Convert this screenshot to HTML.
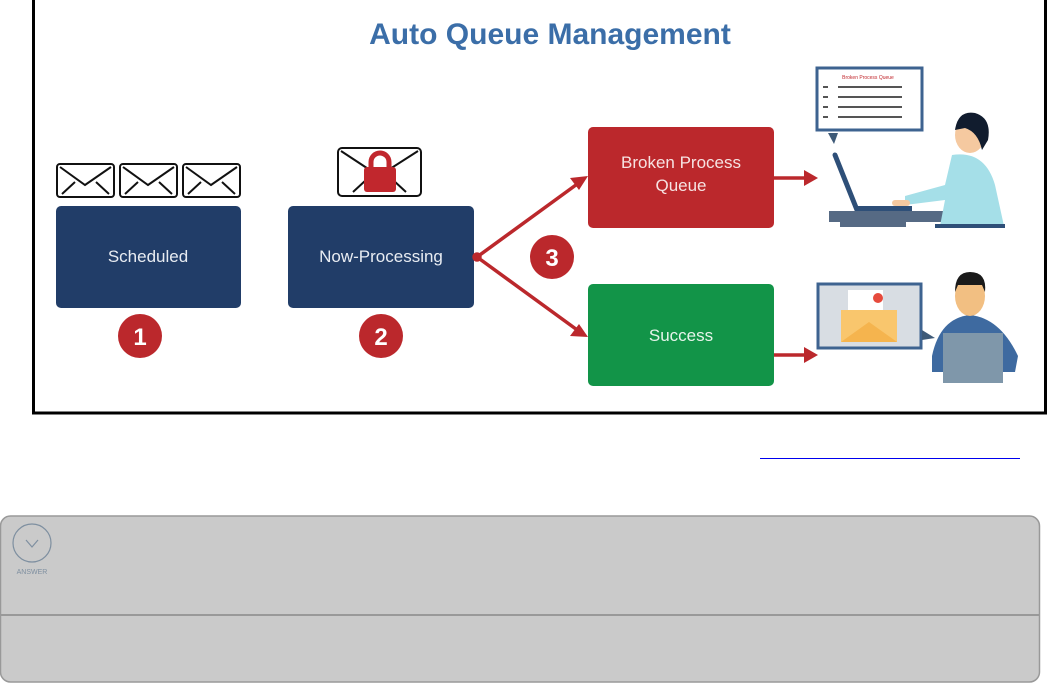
<!DOCTYPE html>
<html><head><meta charset="utf-8"><style>
html,body{margin:0;padding:0;background:#fff;width:1049px;height:683px;overflow:hidden;font-family:"Liberation Sans",sans-serif}
</style></head><body>
<svg width="1049" height="683" viewBox="0 0 1049 683" xmlns="http://www.w3.org/2000/svg" style="position:absolute;left:0;top:0">
<rect x="33.5" y="-2" width="1012" height="415" fill="#fff" stroke="#000" stroke-width="3"/>
<text x="550" y="44" text-anchor="middle" font-size="30" font-weight="bold" fill="#3b6ea8" font-family="Liberation Sans, sans-serif">Auto Queue Management</text>
<g fill="#fff" stroke="#111" stroke-width="2">
<rect x="57" y="164" width="57" height="33" rx="3"/><path d="M60 167 L85 185 L111 167 M62 194 L75 182 M109 194 L96 182" fill="none"/>
<rect x="120" y="164" width="57" height="33" rx="3"/><path d="M123 167 L148 185 L174 167 M125 194 L138 182 M172 194 L159 182" fill="none"/>
<rect x="183" y="164" width="57" height="33" rx="3"/><path d="M186 167 L211 185 L237 167 M188 194 L201 182 M235 194 L222 182" fill="none"/>
<rect x="338" y="148" width="83" height="48" rx="4"/><path d="M341 151 L379 176 L418 151 M353 192 L366 180 M406 192 L393 180" fill="none"/>
</g>
<path d="M371 168 v-6 a9 9 0 0 1 18 0 v6" fill="none" stroke="#c1272d" stroke-width="5"/>
<rect x="364" y="167" width="32" height="25" rx="3" fill="#c1272d"/>
<rect x="56" y="206" width="185" height="102" rx="5" fill="#213d68"/>
<text x="148" y="262" text-anchor="middle" font-size="17" fill="#e8ecf2">Scheduled</text>
<rect x="288" y="206" width="186" height="102" rx="5" fill="#213d68"/>
<text x="381" y="262" text-anchor="middle" font-size="17" fill="#e8ecf2">Now-Processing</text>
<rect x="588" y="127" width="186" height="101" rx="5" fill="#bb282c"/>
<text x="681" y="168" text-anchor="middle" font-size="17" fill="#f6e2e2">Broken Process</text>
<text x="681" y="191" text-anchor="middle" font-size="17" fill="#f6e2e2">Queue</text>
<rect x="588" y="284" width="186" height="102" rx="5" fill="#129448"/>
<text x="681" y="341" text-anchor="middle" font-size="17" fill="#e6f4ea">Success</text>
<g fill="#bb282c"><circle cx="140" cy="336" r="22"/><circle cx="381" cy="336" r="22"/><circle cx="552" cy="257" r="22"/></g>
<g fill="#fff" font-size="24" font-weight="bold" text-anchor="middle"><text x="140" y="345">1</text><text x="381" y="345">2</text><text x="552" y="266">3</text></g>
<g stroke="#bb282c" stroke-width="3.5" fill="none">
<circle cx="477" cy="257" r="3" fill="#bb282c"/>
<path d="M477 257 L580 182 M477 257 L580 332 M774 178 L808 178 M774 355 L808 355"/>
</g>
<g fill="#bb282c">
<path d="M588 176 L570 178 L579 190 Z"/>
<path d="M588 337 L579 324 L570 336 Z"/>
<path d="M818 178 L804 170 L804 186 Z"/>
<path d="M818 355 L804 347 L804 363 Z"/>
</g>
<rect x="817" y="68" width="105" height="62" fill="#fff" stroke="#3e6390" stroke-width="3"/>
<text x="868" y="79" text-anchor="middle" font-size="5" fill="#c1272d">Broken Process Queue</text>
<g fill="#555"><rect x="823" y="86" width="5" height="2"/><rect x="838" y="86" width="64" height="2"/><rect x="823" y="96" width="5" height="2"/><rect x="838" y="96" width="64" height="2"/><rect x="823" y="106" width="5" height="2"/><rect x="838" y="106" width="64" height="2"/><rect x="823" y="116" width="5" height="2"/><rect x="838" y="116" width="64" height="2"/></g>
<path d="M828 133 L838 133 L834 144 Z" fill="#3e5a78"/>
<path d="M835 155 L857 210" stroke="#2e4f78" stroke-width="5" stroke-linecap="round"/>
<rect x="829" y="211" width="114" height="11" fill="#566a84"/>
<rect x="840" y="222" width="66" height="5" fill="#566a84"/>
<rect x="857" y="206" width="55" height="5" fill="#2e4f78"/>
<path d="M952 155 Q985 150 995 185 L1004 226 L940 226 L945 200 L905 205 L905 196 L945 185 Z" fill="#a5dfe8"/>
<ellipse cx="970" cy="135" rx="15" ry="18" fill="#f5c9a0"/>
<path d="M955 130 Q958 110 975 113 Q992 118 988 140 L982 150 Q978 132 965 128 Z" fill="#111c2e"/>
<rect x="892" y="200" width="18" height="6" rx="3" fill="#f5c9a0"/>
<rect x="935" y="224" width="70" height="4" fill="#2e4f78"/>
<rect x="818" y="284" width="103" height="64" fill="#d8dde3" stroke="#3e6390" stroke-width="3"/>
<path d="M922 340 L935 338 L922 330 Z" fill="#3e5a78"/>
<rect x="848" y="290" width="35" height="35" fill="#fff"/>
<circle cx="878" cy="298" r="5" fill="#e64a3c"/>
<path d="M841 310 L897 310 L897 342 L841 342 Z" fill="#f9c66d"/>
<path d="M841 342 L869 322 L897 342 Z" fill="#f5b44e"/>
<path d="M932 356 Q940 318 970 315 Q1000 318 1018 356 L1015 372 L932 372 Z" fill="#3e6aa0"/>
<ellipse cx="970" cy="296" rx="15" ry="20" fill="#f2bf82"/>
<path d="M955 292 Q955 272 970 272 Q987 272 985 292 L982 285 L958 285 Z" fill="#1a1a1a"/>
<rect x="943" y="333" width="60" height="50" fill="#7f97aa"/>
<line x1="760" y1="458.5" x2="1020" y2="458.5" stroke="#0000ee" stroke-width="1"/>
<rect x="0.5" y="516" width="1039" height="166" rx="10" fill="#cacaca" stroke="#999" stroke-width="1.5"/>
<line x1="1" y1="615" x2="1039" y2="615" stroke="#999" stroke-width="2"/>
<circle cx="32" cy="543" r="19" fill="none" stroke="#7e8fa0" stroke-width="1.2"/>
<path d="M26 540 L32 547 L38 540" fill="none" stroke="#7e8fa0" stroke-width="1.2"/>
<text x="32" y="574" text-anchor="middle" font-size="7" fill="#7e8fa0">ANSWER</text>
</svg>
</body></html>
